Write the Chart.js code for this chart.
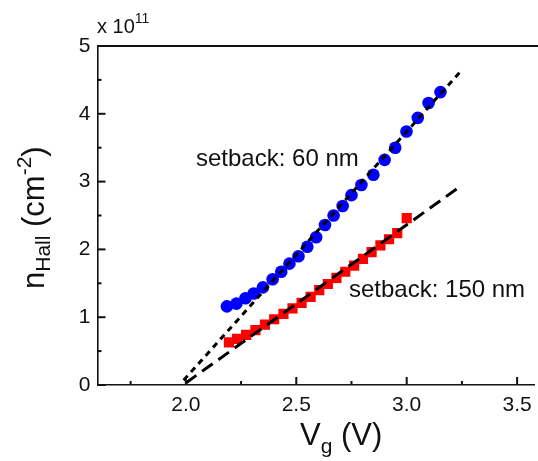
<!DOCTYPE html>
<html>
<head>
<meta charset="utf-8">
<title>n_Hall vs V_g</title>
<script src="https://cdn.jsdelivr.net/npm/chart.js@4/dist/chart.umd.min.js"></script>
<style>
    html, body { margin: 0; padding: 0; background: #fff; overflow: hidden; }
</style>
</head>
<body>
<canvas id="hall" width="542" height="461"></canvas>
<script>
// Hall density vs gate voltage, two setback distances

// setback 60 nm (circles)
const vg60 = [2.186, 2.229, 2.270, 2.307, 2.349, 2.393, 2.432, 2.469, 2.510, 2.550, 2.590, 2.630,
              2.669, 2.710, 2.750, 2.795, 2.849, 2.900, 2.948, 2.999, 3.050, 3.099, 3.153];
const n60 = [1.16, 1.20, 1.28, 1.35, 1.44, 1.56, 1.67, 1.79, 1.90, 2.04, 2.18, 2.36,
             2.50, 2.64, 2.80, 2.95, 3.10, 3.32, 3.50, 3.74, 3.94, 4.16, 4.32];

// setback 150 nm (squares)
const vg150 = [2.195, 2.232, 2.273, 2.315, 2.358, 2.400, 2.442, 2.483, 2.524, 2.565, 2.604,
               2.643, 2.682, 2.722, 2.762, 2.802, 2.841, 2.881, 2.920, 2.957, 3.000];
const n150 = [0.63, 0.68, 0.74, 0.81, 0.89, 0.97, 1.05, 1.13, 1.21, 1.30, 1.40,
              1.49, 1.58, 1.67, 1.76, 1.86, 1.96, 2.06, 2.15, 2.24, 2.46];

// linear fits, end points
const fit60Vg = [1.99, 3.24];
const fit60N = [0.07, 4.61];
const fit150Vg = [2.00, 3.23];
const fit150N = [0.03, 2.90];

// axes
const xTicks = [1.75, 2.0, 2.25, 2.5, 2.75, 3.0, 3.25, 3.5];
const xLabels = ['', '2.0', '', '2.5', '', '3.0', '', '3.5'];
const yTicks = [0, 0.5, 1, 1.5, 2, 2.5, 3, 3.5, 4, 4.5, 5];
const yLabels = ['0', '', '1', '', '2', '', '3', '', '4', '', '5'];

const FONT = "'Liberation Sans', Arial, Helvetica, sans-serif";
const INK = '#111';

function toXY(xs, ys) {
    return xs.map((x, i) => ({ x: x, y: ys[i] }));
}

// draws a run of text pieces, each with its own size and baseline shift
function drawRuns(ctx, x, y, runs) {
    let cx = x;
    runs.forEach(r => {
        ctx.font = r.size + 'px ' + FONT;
        ctx.fillText(r.text, cx, y + (r.dy || 0));
        cx += ctx.measureText(r.text).width;
    });
}

// inward tick marks, top frame and the rich-text labels
const decorations = {
    id: 'decorations',
    afterDraw: function (chart) {
        const ctx = chart.ctx;
        const area = chart.chartArea;
        const xs = chart.scales.x;
        const ys = chart.scales.y;

        ctx.save();
        ctx.fillStyle = INK;
        ctx.fillRect(area.left, area.top - 1, chart.width - area.left, 2);

        xTicks.forEach((v, i) => {
            const px = xs.getPixelForValue(v);
            const len = xLabels[i] ? 8 : 4;
            ctx.fillRect(px - 1, area.bottom - len, 2, len);
        });
        yTicks.forEach((v, i) => {
            const py = ys.getPixelForValue(v);
            const len = yLabels[i] ? 8 : 4;
            ctx.fillRect(area.left, py - 1, len, 2);
        });

        ctx.textAlign = 'left';
        ctx.textBaseline = 'alphabetic';

        // exponent
        drawRuns(ctx, 97, 33, [
            { text: 'x 10', size: 20 },
            { text: '11', size: 14, dy: -10 }
        ]);

        // series labels
        ctx.font = '24px ' + FONT;
        ctx.fillText('setback: 60 nm', 196, 166);
        ctx.fillText('setback: 150 nm', 349, 297);

        // x title
        drawRuns(ctx, 300, 445, [
            { text: 'V', size: 31 },
            { text: 'g', size: 21, dy: 8 },
            { text: ' (V)', size: 31 }
        ]);

        // y title
        ctx.translate(44, 289);
        ctx.rotate(-Math.PI / 2);
        drawRuns(ctx, 0, 0, [
            { text: 'n', size: 31 },
            { text: 'Hall', size: 21, dy: 6 },
            { text: ' (cm', size: 31 },
            { text: '-2', size: 21, dy: -13 },
            { text: ')', size: 31 }
        ]);
        ctx.restore();
    }
};

new Chart(document.getElementById('hall'), {
    type: 'scatter',
    data: {
        datasets: [
            {
                data: toXY(fit60Vg, fit60N),
                xAxisID: 'x',
                showLine: true,
                borderColor: '#000',
                borderWidth: 3,
                borderDash: [6, 5],
                pointRadius: 0,
                order: 0
            },
            {
                data: toXY(fit150Vg, fit150N),
                xAxisID: 'x',
                showLine: true,
                borderColor: '#000',
                borderWidth: 3,
                borderDash: [13, 7],
                pointRadius: 0,
                order: 0
            },
            {
                label: 'setback: 60 nm',
                data: toXY(vg60, n60),
                xAxisID: 'x',
                pointStyle: 'circle',
                pointRadius: 6.3,
                backgroundColor: '#0000ff',
                borderWidth: 0,
                order: 1
            },
            {
                label: 'setback: 150 nm',
                data: toXY(vg150, n150),
                xAxisID: 'x',
                pointStyle: 'rect',
                pointRadius: 7.2,
                backgroundColor: '#ff0000',
                borderWidth: 0,
                order: 1
            }
        ]
    },
    options: {
        responsive: false,
        animation: false,
        events: [],
        layout: { padding: { top: 46, right: 0, left: 0, bottom: 0 } },
        plugins: {
            legend: { display: false },
            tooltip: { enabled: false }
        },
        scales: {
            x: {
                type: 'linear',
                min: 1.6,
                max: 3.58,
                afterBuildTicks: function (scale) {
                    scale.ticks = xTicks.map(v => ({ value: v }));
                },
                afterFit: function (scale) {
                    scale.height = 76;
                },
                ticks: {
                    autoSkip: false,
                    maxRotation: 0,
                    padding: 8,
                    color: INK,
                    font: { family: FONT, size: 21 },
                    callback: function (value, index) {
                        return xLabels[index];
                    }
                },
                grid: { display: false, drawTicks: false },
                border: { display: true, color: INK, width: 1.6 }
            },
            // top frame edge
            xTop: {
                type: 'linear',
                position: 'top',
                min: 1.6,
                max: 3.58,
                afterFit: function (scale) {
                    scale.height = 0;
                },
                ticks: { display: false },
                grid: { display: false, drawTicks: false },
                border: { display: true, color: INK, width: 1.6 }
            },
            y: {
                type: 'linear',
                min: 0,
                max: 5,
                afterBuildTicks: function (scale) {
                    scale.ticks = yTicks.map(v => ({ value: v }));
                },
                afterFit: function (scale) {
                    scale.width = 97.5;
                },
                ticks: {
                    autoSkip: false,
                    padding: 7,
                    color: INK,
                    font: { family: FONT, size: 21 },
                    callback: function (value, index) {
                        return yLabels[index];
                    }
                },
                grid: { display: false, drawTicks: false },
                border: { display: true, color: INK, width: 1.6 }
            }
        }
    },
    plugins: [decorations]
});
</script>
</body>
</html>
